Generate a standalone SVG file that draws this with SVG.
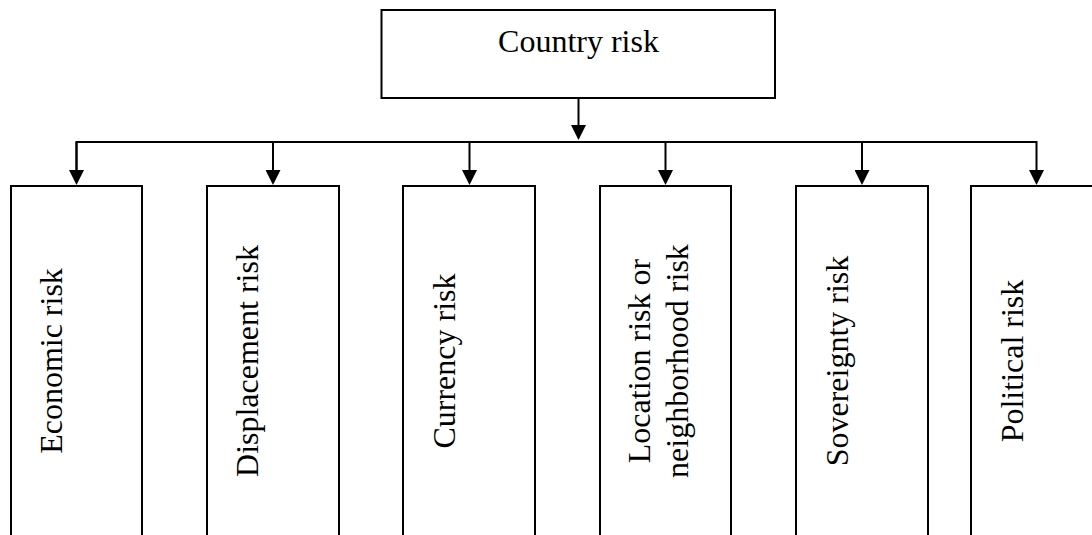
<svg xmlns="http://www.w3.org/2000/svg" width="1092" height="535" viewBox="0 0 1092 535">
<style>
.box{fill:#fff;stroke:#000;stroke-width:2}
.lbl{font-family:"Liberation Serif","Times New Roman",serif;font-size:32px;fill:#000;text-anchor:middle}
.conn{fill:none;stroke:#000;stroke-width:2}
</style>
<defs>
<marker id="arr" markerUnits="userSpaceOnUse" markerWidth="15" markerHeight="15" viewBox="0 0 15 15" refX="5" refY="7.5" orient="auto">
<path d="M0,0 L15,7.5 L0,15 z" fill="#000"/>
</marker>
</defs>
<rect width="1092" height="535" fill="#fff"/>
<g id="connectors">
<line class="conn" x1="578.5" y1="98" x2="578.5" y2="130" marker-end="url(#arr)"/>
<polyline class="conn" points="76.5,175 76.5,142 1036.5,142 1036.5,175" marker-end="url(#arr)"/>
<line class="conn" x1="76.5" y1="142" x2="76.5" y2="175" marker-end="url(#arr)"/>
<line class="conn" x1="273" y1="142" x2="273" y2="175" marker-end="url(#arr)"/>
<line class="conn" x1="469.5" y1="142" x2="469.5" y2="175" marker-end="url(#arr)"/>
<line class="conn" x1="665.5" y1="142" x2="665.5" y2="175" marker-end="url(#arr)"/>
<line class="conn" x1="862" y1="142" x2="862" y2="175" marker-end="url(#arr)"/>
</g>
<g id="country-risk">
<rect class="box" x="381.5" y="10" width="393.5" height="88"/>
<text class="lbl" x="578.5" y="52">Country risk</text>
</g>
<g id="economic-risk">
<rect class="box" x="11" y="186" width="131" height="360"/>
<text class="lbl" transform="translate(62,361) rotate(-90)">Economic risk</text>
</g>
<g id="displacement-risk">
<rect class="box" x="207" y="186" width="132" height="360"/>
<text class="lbl" transform="translate(258,361) rotate(-90)">Displacement risk</text>
</g>
<g id="currency-risk">
<rect class="box" x="403" y="186" width="132" height="360"/>
<text class="lbl" transform="translate(455,361) rotate(-90)">Currency risk</text>
</g>
<g id="location-risk">
<rect class="box" x="600" y="186" width="131" height="360"/>
<text class="lbl" transform="translate(650,361) rotate(-90)"><tspan x="0" y="0">Location risk or</tspan><tspan x="0" y="38">neighborhood risk</tspan></text>
</g>
<g id="sovereignty-risk">
<rect class="box" x="796" y="186" width="132" height="360"/>
<text class="lbl" transform="translate(848,361) rotate(-90)">Sovereignty risk</text>
</g>
<g id="political-risk">
<rect class="box" x="971" y="186" width="131" height="360"/>
<text class="lbl" transform="translate(1023,361) rotate(-90)">Political risk</text>
</g>
</svg>
